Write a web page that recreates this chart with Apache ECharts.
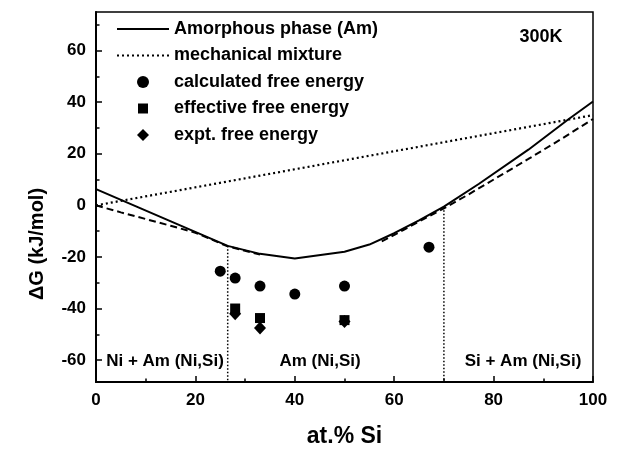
<!DOCTYPE html>
<html><head><meta charset="utf-8">
<script src="https://cdn.jsdelivr.net/npm/echarts@6/dist/echarts.min.js"></script>
<style>html,body{margin:0;padding:0;background:#fff}#c{width:618px;height:453px}</style>
</head><body><div id="c"></div>
<script>
// ---- data ----
const amorphousX = [0, 26.5, 33, 40, 50, 55, 60, 65, 70, 77, 87, 95, 100];
const amorphousY = [6.3, -15.7, -18.8, -20.6, -18, -15.2, -10.8, -5.8, -0.5, 8.3, 21.6, 33.3, 40.3];
const mixtureX = [0, 100];
const mixtureY = [0, 35];
const tangentLeftX = [0, 5, 10, 15, 20, 26.5, 33];
const tangentLeftY = [0, -2.7, -5.3, -7.9, -10.6, -15.9, -19.1];
const tangentRightX = [57.5, 62, 66, 70, 75, 87, 94, 100];
const tangentRightY = [-14, -9.4, -5.2, -1.2, 4.3, 18, 26.2, 33.5];
const calcX = [25, 28, 33, 40, 50, 67];
const calcY = [-25.5, -28.2, -31.3, -34.4, -31.3, -16.2];
const effX = [28, 33, 50];
const effY = [-40, -43.7, -44.5];
const exptX = [28, 33, 50];
const exptY = [-42, -47.6, -45];
const boundaryX = [26.5, 70];
const boundaryTopY = [-15.7, -0.5];
const xMin = 0, xMax = 100, yMin = -68.5, yMax = 75;
const xMajorTicks = [0, 20, 40, 60, 80, 100];
const xMinorTicks = [10, 30, 50, 70, 90];
const yMajorTicks = [-60, -40, -20, 0, 20, 40, 60];
const yMinorTicks = [-50, -30, -10, 10, 30, 50, 70];
const legendNames = ['Amorphous phase (Am)', 'mechanical mixture', 'calculated free energy', 'effective free energy', 'expt. free energy'];
const regionLabels = ['Ni + Am (Ni,Si)', 'Am (Ni,Si)', 'Si + Am (Ni,Si)'];
const tempLabel = '300K';
const xTitle = 'at.% Si';
const yTitle = '\u0394G (kJ/mol)';

const zip = (xs, ys) => xs.map((x, i) => [x, ys[i]]);
const FONT = '"Liberation Sans", Arial, sans-serif';

// legend icons padded to the full item box so they are not stretched
const squareIcon = 'path://M0,0M52,12M21,1L31,1L31,11L21,11Z';
const diamondIcon = 'path://M0,0M52,12M26,-0.5L32.5,6L26,12.5L19.5,6Z';

const boundarySeries = boundaryX.map((x, i) => ({
  type: 'line', data: [[x, boundaryTopY[i]], [x, yMin]], symbol: 'none', silent: true,
  lineStyle: { color: '#000', width: 1.5, type: [1.5, 2] }, z: 2
}));

const textEl = (x, y, text, font, extra) => Object.assign({
  type: 'text', x: x, y: y,
  style: { text: text, font: font, fill: '#000', align: 'center', verticalAlign: 'middle', textAlign: 'center', textVerticalAlign: 'middle' }
}, extra || {});

const chart = echarts.init(document.getElementById('c'), null, { renderer: 'canvas' });
chart.setOption({
  animation: false,
  backgroundColor: '#fff',
  grid: { left: 96, right: 25, top: 12, bottom: 69, show: true, borderColor: '#000', borderWidth: 1.5, backgroundColor: 'transparent' },
  xAxis: [{
    type: 'value', min: xMin, max: xMax, position: 'bottom',
    axisLine: { show: true, onZero: false, lineStyle: { color: '#000', width: 2 } },
    axisTick: { show: true, inside: true, length: 6, customValues: xMajorTicks, lineStyle: { color: '#000', width: 1.5 } },
    axisLabel: { customValues: xMajorTicks, margin: 10, color: '#000', fontSize: 17, fontWeight: 'bold', fontFamily: FONT },
    splitLine: { show: false },
    name: xTitle, nameLocation: 'middle', nameGap: 43,
    nameTextStyle: { color: '#000', fontSize: 23, fontWeight: 'bold', fontFamily: FONT }
  }, {
    type: 'value', min: xMin, max: xMax, position: 'bottom', gridIndex: 0,
    axisLine: { show: false, onZero: false },
    axisTick: { show: true, inside: true, length: 3.5, customValues: xMinorTicks, lineStyle: { color: '#000', width: 1.5 } },
    axisLabel: { show: false }, splitLine: { show: false }
  }],
  yAxis: [{
    type: 'value', min: yMin, max: yMax, position: 'left',
    axisLine: { show: true, onZero: false, lineStyle: { color: '#000', width: 2 } },
    axisTick: { show: true, inside: true, length: 6, customValues: yMajorTicks, lineStyle: { color: '#000', width: 1.5 } },
    axisLabel: { customValues: yMajorTicks, margin: 10, color: '#000', fontSize: 17, fontWeight: 'bold', fontFamily: FONT },
    splitLine: { show: false }
  }, {
    type: 'value', min: yMin, max: yMax, position: 'left', gridIndex: 0,
    axisLine: { show: false, onZero: false },
    axisTick: { show: true, inside: true, length: 3.5, customValues: yMinorTicks, lineStyle: { color: '#000', width: 1.5 } },
    axisLabel: { show: false }, splitLine: { show: false }
  }],
  legend: {
    data: [
      { name: legendNames[0], itemStyle: { opacity: 0 } },
      { name: legendNames[1], itemStyle: { opacity: 0 } },
      { name: legendNames[2] },
      { name: legendNames[3], icon: squareIcon },
      { name: legendNames[4], icon: diamondIcon }
    ],
    orient: 'vertical', left: 116, top: 20, padding: 0,
    itemWidth: 52, itemHeight: 12, itemGap: 8.5,
    textStyle: { color: '#000', fontSize: 18, fontWeight: 'bold', fontFamily: FONT },
    selectedMode: false
  },
  graphic: [
    textEl(541, 37, tempLabel, 'bold 18px ' + FONT),
    textEl(165, 361, regionLabels[0], 'bold 17px ' + FONT),
    textEl(320, 361, regionLabels[1], 'bold 17px ' + FONT),
    textEl(523, 361, regionLabels[2], 'bold 17px ' + FONT),
    textEl(37, 244, yTitle, 'bold 20px ' + FONT, { rotation: Math.PI / 2 })
  ],
  series: [
    { name: legendNames[0], type: 'line', data: zip(amorphousX, amorphousY), symbol: 'none', smooth: false,
      lineStyle: { color: '#000', width: 2, type: 'solid' }, itemStyle: { color: '#000' }, z: 3 },
    { name: legendNames[1], type: 'line', data: zip(mixtureX, mixtureY), symbol: 'none',
      lineStyle: { color: '#000', width: 2.2, type: [2, 3] }, itemStyle: { color: '#000' }, z: 3 },
    { name: 'common tangent', type: 'line', data: zip(tangentLeftX, tangentLeftY).concat([[null, null]], zip(tangentRightX, tangentRightY)), symbol: 'none', connectNulls: false,
      lineStyle: { color: '#000', width: 2, type: [7, 4] }, z: 3 },
    ...boundarySeries,
    { name: legendNames[2], type: 'scatter', data: zip(calcX, calcY), symbol: 'circle', symbolSize: 11, itemStyle: { color: '#000', opacity: 1 }, z: 5 },
    { name: legendNames[3], type: 'scatter', data: zip(effX, effY), symbol: 'rect', symbolSize: 10, itemStyle: { color: '#000', opacity: 1 }, z: 5 },
    { name: legendNames[4], type: 'scatter', data: zip(exptX, exptY), symbol: 'diamond', symbolSize: [12, 13], itemStyle: { color: '#000', opacity: 1 }, z: 6 }
  ]
});
</script></body></html>
